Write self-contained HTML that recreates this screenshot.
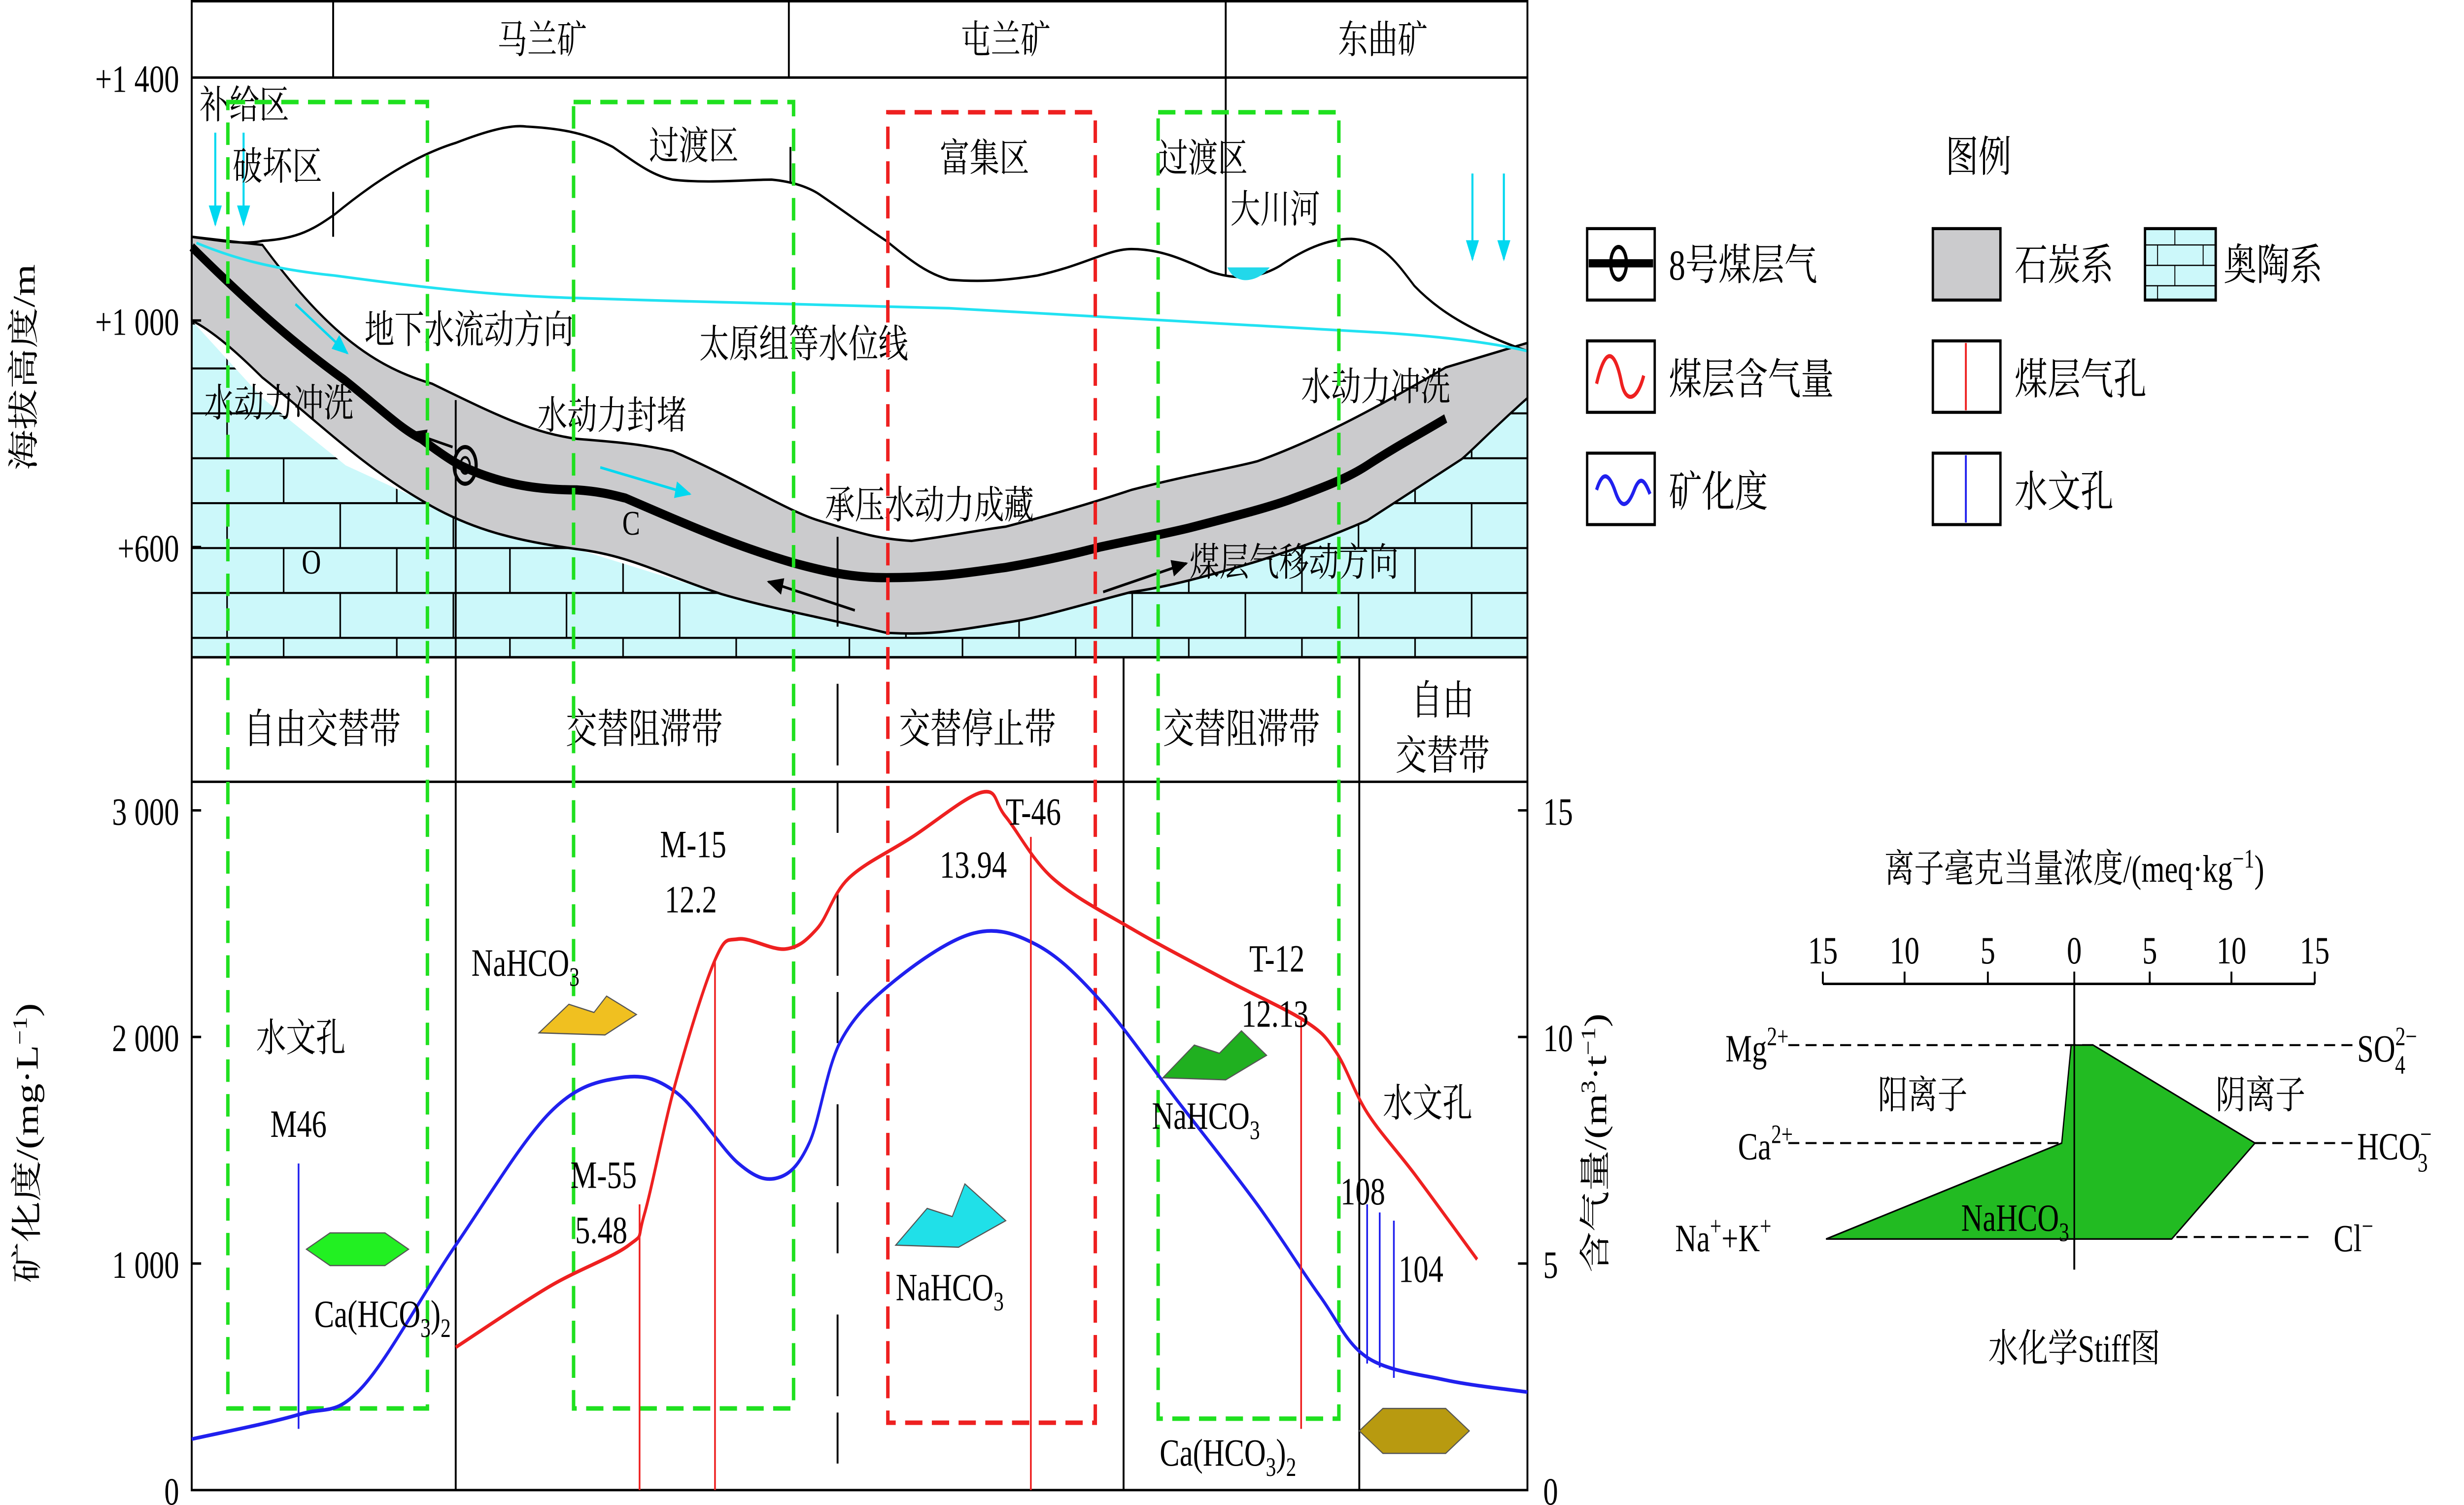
<!DOCTYPE html>
<html><head><meta charset="utf-8"><style>
html,body{margin:0;padding:0;background:#fff;overflow:hidden;width:100vw;height:100vh;}
svg{display:block;width:100vw;height:100vh;}
text{font-family:"Liberation Serif","Noto Serif CJK SC",serif;fill:#000;}
</style></head><body>
<svg id="chart" viewBox="0 0 1568 737.3" preserveAspectRatio="none" xmlns="http://www.w3.org/2000/svg">
<defs>
<pattern id="brick" patternUnits="userSpaceOnUse" x="0" y="158" width="72" height="44">
<rect width="72" height="44" fill="#ccf8fa"/>
<path d="M0 0.5H72M0 22.5H72M0.5 0V22M36.5 22V44" stroke="#000" stroke-width="1" fill="none"/>
</pattern>
<marker id="cyanArrow" viewBox="0 0 10 10" refX="9" refY="5" markerWidth="8" markerHeight="8" orient="auto"><path d="M0 1L10 5L0 9z" fill="#00d8f0"/></marker>
<marker id="blackArrow" viewBox="0 0 10 10" refX="9" refY="5" markerWidth="8" markerHeight="8" orient="auto"><path d="M0 1L10 5L0 9z" fill="#000"/></marker>
</defs>

<g>
<path fill="url(#brick)" d="M122 157 L167 195 L220 228 L268 245 L367 269 L459 291 L564 310 L640 305 L720 290 L800 275 L870 255 L930 225 L972 195 L972 322 L122 322 Z"/>
<path fill="url(#brick)" d="M840 215 L850 212 L920 180 L972 168 L972 200 L930 225 L860 240 Z"/>
<path fill="#cbcbcd" stroke="#000" stroke-width="1.2" d="M122 116 L167 120 C210 165 240 180 275 188 C320 205 340 212 367 215 C400 217 410 218 428 221 C470 235 500 250 521 255 C550 262 560 264 580 265 C610 262 620 260 640 258 C680 250 700 245 720 240 C760 232 780 230 800 226 C840 215 880 198 920 180 L972 168 L972 195 C950 210 935 222 930 225 C900 240 880 250 870 255 C840 265 820 270 800 275 C770 282 740 288 720 290 C680 298 660 303 640 305 C600 310 590 311 564 310 C520 302 490 298 459 291 C420 281 400 272 367 269 C330 265 300 260 268 245 C230 228 200 205 167 185 C150 172 135 162 122 157 Z"/>
<path fill="none" stroke="#000" stroke-width="4.5" d="M122 121 C160 150 190 170 219 186 C245 202 255 210 268 215 C280 222 288 226 293 228 C320 238 345 240 367 240 C385 241 392 243 398 244 C440 258 470 268 506 276 C530 281 545 283 564 283 C600 283 620 280 640 278 C670 274 690 270 700 268 C730 263 745 261 760 258 C790 252 805 249 820 245 C845 238 858 234 870 228 C890 218 905 212 920 205"/>
<g><ellipse cx="296" cy="228" rx="7" ry="9" fill="none" stroke="#000" stroke-width="2"/><ellipse cx="296" cy="228" rx="3" ry="4" fill="none" stroke="#000" stroke-width="1.2"/></g>
<path fill="none" stroke="#000" stroke-width="1.2" d="M122 116 C140 118 155 120 167 118 C190 117 200 112 213 105 C240 88 265 76 290 70 C310 64 325 61 335 62 C360 63 375 66 390 72 C405 80 415 86 428 88 C450 90 475 88 491 88 C505 89 515 92 521 95 C540 105 552 112 564 118 C580 128 590 134 604 137 C620 138 635 138 660 135 C690 130 705 122 720 122 C740 122 755 128 770 133 C785 137 800 137 815 130 C830 122 845 117 860 117 C880 118 890 130 900 140 C915 152 935 162 972 172"/>
<path fill="#22d8ea" d="M781 131 L808 131 C803 136 795 138 790 137 C785 136 783 134 781 131 Z"/>
<path fill="none" stroke="#22e2f2" stroke-width="1.3" d="M125 119 C150 127 175 132 213 135 C280 142 320 145 367 146 C450 148 540 150 604 151 C700 155 800 160 880 163 C920 165 950 168 972 172"/>
<g stroke="#00d8f0" stroke-width="1.3">
<line x1="137" y1="65" x2="137" y2="110" marker-end="url(#cyanArrow)"/><line x1="155" y1="65" x2="155" y2="110" marker-end="url(#cyanArrow)"/>
<line x1="937" y1="85" x2="937" y2="127" marker-end="url(#cyanArrow)"/><line x1="957" y1="85" x2="957" y2="127" marker-end="url(#cyanArrow)"/>
<line x1="188" y1="149" x2="221" y2="173" marker-end="url(#cyanArrow)"/>
<line x1="382" y1="229" x2="439" y2="242" marker-end="url(#cyanArrow)"/>
</g>
<g stroke="#000" stroke-width="1.3">
<line x1="544" y1="299" x2="489" y2="285" marker-end="url(#blackArrow)"/>
<line x1="288" y1="219" x2="262" y2="212" marker-end="url(#blackArrow)"/>
<line x1="702" y1="290" x2="755" y2="276" marker-end="url(#blackArrow)"/>
</g>
<g font-size="19">
<text x="127" y="58">补给区</text><text x="148" y="88">破坏区</text><text x="413" y="78">过渡区</text>
<text x="598" y="84">富集区</text><text x="737" y="84">过渡区</text><text x="783" y="109">大川河</text>
<text x="232" y="168">地下水流动方向</text><text x="445" y="175">太原组等水位线</text>
<text x="130" y="204">水动力冲洗</text><text x="342" y="210">水动力封堵</text>
<text x="525" y="254">承压水动力成藏</text><text x="757" y="282">煤层气移动方向</text>
<text x="828" y="196">水动力冲洗</text>
<text x="192" y="281" font-size="17">O</text><text x="396" y="262" font-size="17">C</text>
</g>
</g>

<g stroke="#000" stroke-width="1.2" fill="none">
<rect x="122" y="0.6" width="850" height="729.4"/>
<line x1="122" y1="38" x2="972" y2="38"/><line x1="122" y1="322" x2="972" y2="322"/><line x1="122" y1="383" x2="972" y2="383"/>
<line x1="212" y1="0" x2="212" y2="38"/><line x1="212" y1="94" x2="212" y2="116"/>
<line x1="502" y1="0" x2="502" y2="38"/><line x1="503" y1="72" x2="503" y2="89"/>
<line x1="780" y1="0" x2="780" y2="135"/>
<line x1="290" y1="196" x2="290" y2="730"/>
<line x1="533" y1="263" x2="533" y2="307"/>
<line x1="533" y1="335" x2="533" y2="720" stroke-dasharray="40 8 25 30"/>
<line x1="715" y1="322" x2="715" y2="730"/><line x1="865" y1="322" x2="865" y2="730"/>
<line x1="122" y1="157" x2="128" y2="157"/><line x1="122" y1="268" x2="128" y2="268"/>
<line x1="122" y1="397" x2="128" y2="397"/><line x1="122" y1="508" x2="128" y2="508"/><line x1="122" y1="619" x2="128" y2="619"/>
<line x1="966" y1="397" x2="972" y2="397"/><line x1="966" y1="508" x2="972" y2="508"/><line x1="966" y1="619" x2="972" y2="619"/>
</g>
<g font-size="19" text-anchor="middle">
<text x="345" y="26">马兰矿</text><text x="640" y="26">屯兰矿</text><text x="880" y="26">东曲矿</text>
</g>
<g font-size="20" text-anchor="middle">
<text x="205" y="364">自由交替带</text><text x="410" y="364">交替阻滞带</text><text x="622" y="364">交替停止带</text>
<text x="790" y="364">交替阻滞带</text><text x="918" y="350">自由</text><text x="918" y="377">交替带</text>
</g>
<g font-size="19" text-anchor="end">
<text x="114" y="45">+1 400</text><text x="114" y="164">+1 000</text><text x="114" y="275">+600</text>
<text transform="translate(22,180) rotate(-90)" text-anchor="middle" font-size="20">海拔高度/m</text>
</g>

<g fill="none" stroke-width="2.2" stroke-dasharray="11 6">
<rect x="145" y="50" width="127" height="640" stroke="#1fe01f"/>
<rect x="365" y="50" width="140" height="640" stroke="#1fe01f"/>
<rect x="737" y="55" width="115" height="640" stroke="#1fe01f"/>
<rect x="565" y="55" width="132" height="642" stroke="#ee2020"/>
</g>

<g id="lower"></g>
<g font-size="19" text-anchor="end" id="leftTicks"></g>
<g font-size="19" id="rightTicks"></g>
<text transform="translate(24,560) rotate(-90)" text-anchor="middle" font-size="20">矿化度/(mg·L<tspan font-size="13" dy="-7">−1</tspan><tspan dy="7">)</tspan></text>
<text transform="translate(1022,560) rotate(-90)" text-anchor="middle" font-size="20">含气量/(m<tspan font-size="13" dy="-7">3</tspan><tspan dy="7">·t</tspan><tspan font-size="13" dy="-7">−1</tspan><tspan dy="7">)</tspan></text>

<g stroke-width="1.1">
<line x1="407" y1="590" x2="407" y2="730" stroke="#ee2020"/><line x1="455" y1="470" x2="455" y2="730" stroke="#ee2020"/>
<line x1="656" y1="410" x2="656" y2="730" stroke="#ee2020"/><line x1="828" y1="500" x2="828" y2="700" stroke="#ee2020"/>
<line x1="190" y1="570" x2="190" y2="700" stroke="#2020ee"/><line x1="870" y1="590" x2="870" y2="668" stroke="#2020ee"/>
<line x1="878" y1="594" x2="878" y2="670" stroke="#2020ee"/><line x1="887" y1="598" x2="887" y2="675" stroke="#2020ee"/>
</g>
<g stroke="#555" stroke-width="0.6">
<polygon points="195,612 210,604 245,604 260,612 245,620 210,620" fill="#22f022"/>
<polygon points="343,506 362,492 378,496 386,488 405,497 385,507" fill="#f0c020"/>
<polygon points="570,610 590,592 606,596 614,580 640,598 610,611" fill="#20e0e8"/>
<polygon points="740,528 760,512 776,516 790,505 806,517 780,529" fill="#20b020"/>
<polygon points="865,701 880,690 920,690 935,701 920,712 880,712" fill="#b89a10"/>
</g>
<g font-size="19">
<text x="163" y="515">水文孔</text><text x="172" y="557">M46</text>
<text x="200" y="650">Ca(HCO<tspan font-size="13" dy="5">3</tspan><tspan dy="-5">)</tspan><tspan font-size="13" dy="5">2</tspan></text>
<text x="300" y="478">NaHCO<tspan font-size="13" dy="5">3</tspan></text>
<text x="420" y="420">M-15</text><text x="423" y="447">12.2</text>
<text x="363" y="582">M-55</text><text x="366" y="609">5.48</text>
<text x="640" y="404">T-46</text><text x="598" y="430">13.94</text>
<text x="570" y="637">NaHCO<tspan font-size="13" dy="5">3</tspan></text>
<text x="795" y="476">T-12</text><text x="790" y="503">12.13</text>
<text x="733" y="553">NaHCO<tspan font-size="13" dy="5">3</tspan></text>
<text x="880" y="547">水文孔</text><text x="853" y="590">108</text><text x="890" y="628">104</text>
<text x="738" y="718">Ca(HCO<tspan font-size="13" dy="5">3</tspan><tspan dy="-5">)</tspan><tspan font-size="13" dy="5">2</tspan></text>
</g>

<g font-size="21">
<text x="1238" y="84">图例</text>
<g><rect x="1010" y="112" width="43" height="35" fill="#fff" stroke="#000" stroke-width="1.5"/><line x1="1011" y1="129" x2="1052" y2="129" stroke="#000" stroke-width="4"/><ellipse cx="1030" cy="129" rx="5" ry="8" fill="none" stroke="#000" stroke-width="2"/><text x="1062" y="137">8号煤层气</text></g>
<g><rect x="1230" y="112" width="43" height="35" fill="#cbcbcd" stroke="#000" stroke-width="1.5"/><text x="1282" y="137">石炭系</text></g>
<g><rect x="1365" y="112" width="45" height="35" fill="#ccf8fa" stroke="#000" stroke-width="1.5"/><path d="M1365 120H1410M1365 130H1410M1365 140H1410M1384 112V120M1373 120V130M1402 120V130M1384 130V140M1373 140V147" stroke="#000" stroke-width="0.6"/><text x="1415" y="137">奥陶系</text></g>
<g><rect x="1010" y="167" width="43" height="35" fill="#fff" stroke="#000" stroke-width="1.5"/><path d="M1016 188 C1022 168 1028 172 1032 188 C1035 198 1042 196 1046 184" stroke="#ee2020" stroke-width="2" fill="none"/><text x="1062" y="193">煤层含气量</text></g>
<g><rect x="1230" y="167" width="43" height="35" fill="#fff" stroke="#000" stroke-width="1.5"/><line x1="1251" y1="168" x2="1251" y2="201" stroke="#ee2020" stroke-width="1.2"/><text x="1282" y="193">煤层气孔</text></g>
<g><rect x="1010" y="222" width="43" height="35" fill="#fff" stroke="#000" stroke-width="1.5"/><path d="M1016 240 C1020 230 1024 232 1028 241 C1032 250 1036 248 1040 240 C1044 232 1047 236 1050 242" stroke="#2020ee" stroke-width="2" fill="none"/><text x="1062" y="248">矿化度</text></g>
<g><rect x="1230" y="222" width="43" height="35" fill="#fff" stroke="#000" stroke-width="1.5"/><line x1="1251" y1="223" x2="1251" y2="256" stroke="#2020ee" stroke-width="1.2"/><text x="1282" y="248">水文孔</text></g>
</g>

<g font-size="19">
<text x="1320" y="432" text-anchor="middle">离子毫克当量浓度/(meq·kg<tspan font-size="13" dy="-7">−1</tspan><tspan dy="7">)</tspan></text>
<g text-anchor="middle"><text x="1160" y="472">15</text><text x="1212" y="472">10</text><text x="1265" y="472">5</text><text x="1320" y="472">0</text><text x="1368" y="472">5</text><text x="1420" y="472">10</text><text x="1473" y="472">15</text></g>
<path d="M1160 482H1473M1160 482V476M1212 482V476M1265 482V476M1320 482V476M1368 482V476M1420 482V476M1473 482V476M1320 482V622" stroke="#000" stroke-width="1.2" fill="none"/>
<path d="M1138 512H1500M1138 560H1500M1385 606H1473" stroke="#000" stroke-width="1" stroke-dasharray="7 4" fill="none"/>
<polygon points="1318,512 1332,512 1435,560 1382,607 1162,607 1312,560" fill="#22bb22" stroke="#000" stroke-width="0.8"/>
<line x1="1320" y1="512" x2="1320" y2="607" stroke="#000" stroke-width="1"/>
<text x="1098" y="520">Mg<tspan font-size="13" dy="-8">2+</tspan></text>
<text x="1106" y="568">Ca<tspan font-size="13" dy="-8">2+</tspan></text>
<text x="1066" y="613">Na<tspan font-size="13" dy="-8">+</tspan><tspan dy="8">+K</tspan><tspan font-size="13" dy="-8">+</tspan></text>
<text x="1500" y="520">SO<tspan font-size="13" dy="-8">2−</tspan><tspan font-size="13" dx="-14" dy="14">4</tspan></text>
<text x="1500" y="568">HCO<tspan font-size="13" dy="-8">−</tspan><tspan font-size="13" dx="-9" dy="14">3</tspan></text>
<text x="1485" y="613">Cl<tspan font-size="13" dy="-8">−</tspan></text>
<text x="1195" y="543">阳离子</text><text x="1410" y="543">阴离子</text>
<text x="1248" y="603">NaHCO<tspan font-size="13" dy="5">3</tspan></text>
<text x="1320" y="667" text-anchor="middle">水化学Stiff图</text>
</g>
</svg>
<script>
// section distance (km) and values
const blueDist = [0,1.36,2.16,3.36,4.56,5.46,6.16,6.96,7.46,7.86,8.26,8.96,9.96,10.76,11.56,12.56,13.56,14.36,14.96,15.96,17.0];
const blueTDS = [225,333,450,1081,1667,1820,1757,1441,1378,1532,1982,2252,2459,2405,2162,1712,1261,856,586,486,432];
const redDist = [3.36,4.56,5.56,5.76,6.16,6.66,6.96,7.56,7.96,8.36,9.16,10.06,10.36,10.96,11.96,13.16,14.16,14.56,14.96,15.56,16.36];
const redGas = [3.15,4.5,5.4,6.08,9.0,11.7,12.16,11.94,12.39,13.5,14.4,15.4,14.86,13.5,12.39,11.26,10.36,9.68,8.33,6.98,5.09];
const leftTickVals = [0,1000,2000,3000];
const leftTickLabels = ["0","1 000","2 000","3 000"];
const rightTickVals = [0,5,10,15];
const rightTickLabels = ["0","5","10","15"];

const NS = "http://www.w3.org/2000/svg";
function xD(km){ return 122 + km*50; }
function yL(v){ return 730 - v*0.111; }
function yR(v){ return 730 - v*22.2; }
function smooth(pts){
  let d = "M"+pts[0][0]+" "+pts[0][1];
  for(let i=0;i<pts.length-1;i++){
    const p0=pts[Math.max(0,i-1)],p1=pts[i],p2=pts[i+1],p3=pts[Math.min(pts.length-1,i+2)];
    const c1x=p1[0]+(p2[0]-p0[0])/6,c1y=p1[1]+(p2[1]-p0[1])/6;
    const c2x=p2[0]-(p3[0]-p1[0])/6,c2y=p2[1]-(p3[1]-p1[1])/6;
    d+=" C"+c1x.toFixed(1)+" "+c1y.toFixed(1)+" "+c2x.toFixed(1)+" "+c2y.toFixed(1)+" "+p2[0].toFixed(1)+" "+p2[1].toFixed(1);
  }
  return d;
}
const g = document.getElementById("lower");
const bp = document.createElementNS(NS,"path");


bp.setAttribute("d", smooth(blueDist.map((k,i)=>[xD(k),yL(blueTDS[i])])));
bp.setAttribute("fill","none"); bp.setAttribute("stroke","#2020ee"); bp.setAttribute("stroke-width","1.8");
g.appendChild(bp);
const rp = document.createElementNS(NS,"path");


rp.setAttribute("d", smooth(redDist.map((k,i)=>[xD(k),yR(redGas[i])])));
rp.setAttribute("fill","none"); rp.setAttribute("stroke","#ee2020"); rp.setAttribute("stroke-width","1.8");
g.appendChild(rp);
const lt = document.getElementById("leftTicks");
leftTickVals.forEach((v,i)=>{
  const t=document.createElementNS(NS,"text");
  
  
  t.setAttribute("x",114); t.setAttribute("y",yL(v)+7); t.textContent=leftTickLabels[i]; lt.appendChild(t);
});
const rt = document.getElementById("rightTicks");
rightTickVals.forEach((v,i)=>{
  const t=document.createElementNS(NS,"text");
  
  
  t.setAttribute("x",982); t.setAttribute("y",yR(v)+7); t.textContent=rightTickLabels[i]; rt.appendChild(t);
});
</script>
</body></html>
